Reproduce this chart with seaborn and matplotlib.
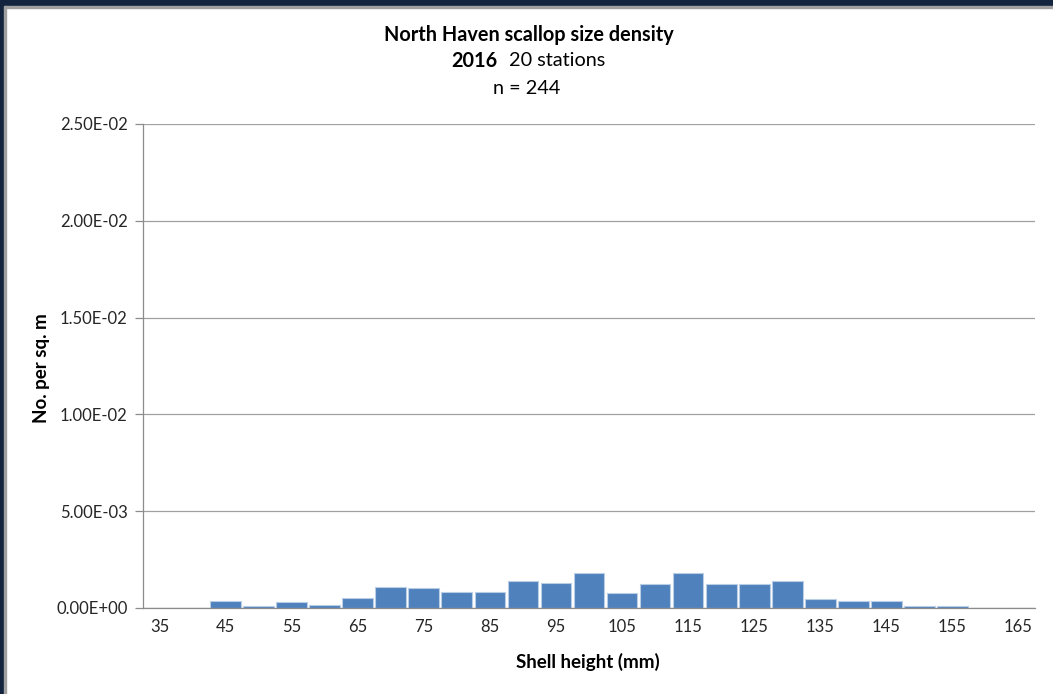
import matplotlib
matplotlib.use("Agg")
import matplotlib.pyplot as plt
from matplotlib.patches import Rectangle
from matplotlib.ticker import FuncFormatter, FixedLocator
import seaborn as sns
import pandas as pd

# shell height classes (mm) and density (no. per sq. m)
heights = [35, 40, 45, 50, 55, 60, 65, 70, 75, 80, 85, 90, 95, 100,
           105, 110, 115, 120, 125, 130, 135, 140, 145, 150, 155, 160, 165]
density = [0.0, 0.0, 0.00038, 0.0001, 0.00029, 0.00015, 0.00052, 0.00107,
           0.00102, 0.00083, 0.00083, 0.00138, 0.00129, 0.00182, 0.00076,
           0.00124, 0.00179, 0.00124, 0.00124, 0.00138, 0.00046, 0.00038,
           0.00038, 0.0001, 0.0001, 0.0, 0.0]
y_ticks = [0.0, 0.005, 0.010, 0.015, 0.020, 0.025]

df = pd.DataFrame({"height": [str(h) for h in heights], "density": density})

sns.set_style("white")
plt.rcParams["font.family"] = ["Lato", "DejaVu Sans"]

W, H = 1053, 694
fig = plt.figure(figsize=(W / 100, H / 100), dpi=100)
ax = fig.add_axes([143 / W, 1 - 608 / H, (1035 - 143) / W, (608 - 124) / H])

sns.barplot(data=df, x="height", y="density", color="#4f81bd", saturation=1,
            width=0.93, edgecolor="#b9cde5", linewidth=0.8, ax=ax)

grey = "#8c8c8c"
ax.set_xlim(-0.5, len(heights) - 0.5)
ax.set_ylim(0, 0.025)
ax.set_yticks(y_ticks)
ax.yaxis.set_major_formatter(FuncFormatter(lambda v, p: f"{v:.2E}"))
ax.grid(axis="y", color="#a0a0a0", linewidth=0.9)
ax.set_axisbelow(True)

# x labels every other class, tick marks on class boundaries
idx = list(range(0, len(heights), 2))
ax.xaxis.set_major_locator(FixedLocator(idx))
ax.set_xticklabels([str(heights[i]) for i in idx])
ax.xaxis.set_minor_locator(FixedLocator([i - 0.5 for i in range(len(heights) + 1)]))
ax.tick_params(axis="x", which="major", length=0, pad=8, labelsize=12, labelcolor="#262626")
ax.tick_params(axis="x", which="minor", length=5, color=grey, width=0.9, direction="out")
ax.tick_params(axis="y", length=6, color=grey, width=0.9, left=True, pad=5,
               labelsize=12, labelcolor="#262626")

for s in ["top", "right"]:
    ax.spines[s].set_visible(False)
for s in ["left", "bottom"]:
    ax.spines[s].set_color(grey)
    ax.spines[s].set_linewidth(0.9)

ax.set_xlabel("")
ax.set_ylabel("")
fig.text(588 / W, 1 - 662 / H, "Shell height (mm)", ha="center", va="center",
         fontsize=13.5, fontweight="bold", color="black")
fig.text(42 / W, 1 - 368 / H, "No. per sq. m", ha="center", va="center",
         rotation=90, fontsize=13.5, fontweight="bold", color="black")

# title block
fig.text(529 / W, 1 - 35 / H, "North Haven scallop size density", ha="center",
         va="center", fontsize=14.3, fontweight="bold", color="black")
fig.text(497 / W, 1 - 61 / H, "2016", ha="right", va="center",
         fontsize=14.3, fontweight="bold", color="black")
fig.text(509 / W, 1 - 61 / H, "20 stations", ha="left", va="center",
         fontsize=14.3, color="black")
fig.text(527 / W, 1 - 88 / H, "n = 244", ha="center", va="center",
         fontsize=14.3, color="black")

# dark frame on top and left edges
navy = "#13243e"
fig.patches.append(Rectangle((0, 1 - 6 / H), 1, 6 / H, transform=fig.transFigure,
                             color=navy, zorder=0))
fig.patches.append(Rectangle((0, 1 - 8 / H), 1, 2 / H, transform=fig.transFigure,
                             color="#a0a0a0", zorder=0))
fig.patches.append(Rectangle((0, 0), 4 / W, 1, transform=fig.transFigure,
                             color=navy, zorder=0))
fig.patches.append(Rectangle((4 / W, 0), 2 / W, 1 - 6 / H, transform=fig.transFigure,
                             color="#a0a0a0", zorder=0))

fig.savefig("out.png", dpi=100)
